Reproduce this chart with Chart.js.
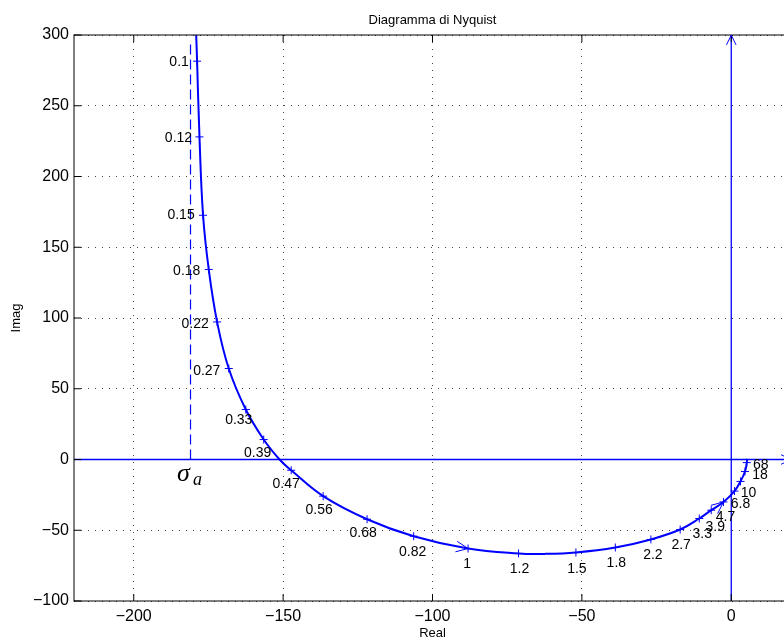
<!DOCTYPE html>
<html>
<head>
<meta charset="utf-8">
<script src="https://cdn.jsdelivr.net/npm/chart.js@4.4.0/dist/chart.umd.min.js"></script>
<style>
  html, body { margin: 0; padding: 0; overflow: hidden; background: #fff; }
  #wrap { width: 800px; height: 641px; }
</style>
</head>
<body>
<div id="wrap"><canvas id="nyquist" width="800" height="641"></canvas></div>
<script>
// traced Nyquist curve (Real / Imag)
const curveRe = [-179.1, -178.8, -178.0, -176.8, -174.9, -172.1, -168.2, -162.5, -156.5, -151.2, -147.3, -136.6, -121.9, -106.3, -88.1, -71.2, -62.5, -52.0, -38.8, -26.9, -17.1, -10.7, -6.7, -2.6, 1.1, 3.1, 4.6, 5.2, 5.3];
const curveIm = [300, 281.5, 228, 172.6, 134.3, 97.2, 64.3, 35.3, 14.1, 0, -7.6, -25.9, -42.2, -54.2, -62.9, -66.4, -66.7, -65.7, -62.2, -56.5, -49.5, -41.7, -35.8, -30, -22.3, -15.5, -8.5, -2.2, 0];

// frequency markers
const freqLabels = ['0.1', '0.12', '0.15', '0.18', '0.22', '0.27', '0.33', '0.39', '0.47', '0.56', '0.68', '0.82', '1', '1.2', '1.5', '1.8', '2.2', '2.7', '3.3', '3.9', '4.7', '6.8', '10', '18', '68'];
const markerRe = [-178.8, -178.0, -176.8, -174.9, -172.1, -168.2, -162.5, -156.5, -147.3, -136.6, -121.9, -106.3, -88.1, -71.2, -52.0, -38.8, -26.9, -17.1, -10.7, -6.7, -2.6, 1.1, 3.1, 4.6, 5.2];
const markerIm = [281.5, 228, 172.6, 134.3, 97.2, 64.3, 35.3, 14.1, -7.6, -25.9, -42.2, -54.2, -62.9, -66.4, -65.7, -62.2, -56.5, -49.5, -41.7, -35.8, -30, -22.3, -15.5, -8.5, -2.2];

// direction arrows on the curve, at these markers
const arrowMarkers = ['1', '4.7'];

// asymptote
const sigmaA = -181;
const asymptoteTop = 295;

// axes
const xRange = [-220, 20];
const yRange = [-100, 300];
const xTicks = [-200, -150, -100, -50, 0];
const yTicks = [-100, -50, 0, 50, 100, 150, 200, 250, 300];

// label placement relative to each marker (px)
const labelShift = [
    [-18, 1], [-21, 1], [-22, 0], [-22, 2], [-22, 2], [-22, 3], [-7, 11], [-6, 14],
    [-5, 14], [-4, 14], [-4, 14], [-1, 16], [-1, 16], [1, 16], [1, 17], [1, 16],
    [2, 16], [1, 16], [3, 16], [4, 17], [2, 15], [6, 13], [8, 12], [15, 4], [14, 3]
];

const BLUE = '#0000ff';
const SANS = "'Liberation Sans', Arial, sans-serif";

function fmt(v) {
    return v < 0 ? '\u2212' + Math.abs(v) : String(v);
}

function gridColor(ctx) {
    // zero lines are covered by the blue axes
    return ctx.tick && ctx.tick.value === 0 ? 'rgba(0,0,0,0)' : '#444';
}

function arrowHead(ctx, x, y, dx, dy, len, spread) {
    const a = Math.atan2(dy, dx);
    ctx.beginPath();
    ctx.moveTo(x - len * Math.cos(a - spread), y - len * Math.sin(a - spread));
    ctx.lineTo(x, y);
    ctx.lineTo(x - len * Math.cos(a + spread), y - len * Math.sin(a + spread));
    ctx.stroke();
}

const overlay = {
    id: 'overlay',
    afterDatasetsDraw(chart) {
        const { ctx, chartArea: ca, scales: { x, y } } = chart;
        ctx.save();

        // frame
        ctx.strokeStyle = '#000';
        ctx.lineWidth = 1;
        ctx.strokeRect(ca.left, ca.top, ca.right - ca.left, ca.bottom - ca.top);

        // inner ticks
        ctx.beginPath();
        xTicks.forEach(v => {
            const px = x.getPixelForValue(v);
            ctx.moveTo(px, ca.bottom); ctx.lineTo(px, ca.bottom - 7);
            ctx.moveTo(px, ca.top); ctx.lineTo(px, ca.top + 7);
        });
        yTicks.forEach(v => {
            const py = y.getPixelForValue(v);
            ctx.moveTo(ca.left, py); ctx.lineTo(ca.left + 7, py);
            ctx.moveTo(ca.right, py); ctx.lineTo(ca.right - 7, py);
        });
        ctx.stroke();

        // arrows on axis lines
        ctx.strokeStyle = BLUE;
        ctx.lineWidth = 1;
        arrowHead(ctx, x.getPixelForValue(xRange[1]), y.getPixelForValue(0), 1, 0, 11, 0.45);
        arrowHead(ctx, x.getPixelForValue(0), y.getPixelForValue(yRange[1]), 0, -1, 11, 0.45);

        // arrows on the curve
        arrowMarkers.forEach(lbl => {
            const i = freqLabels.indexOf(lbl);
            const px = x.getPixelForValue(markerRe[i]);
            const py = y.getPixelForValue(markerIm[i]);
            const dx = x.getPixelForValue(markerRe[i + 1]) - x.getPixelForValue(markerRe[i - 1]);
            const dy = y.getPixelForValue(markerIm[i + 1]) - y.getPixelForValue(markerIm[i - 1]);
            arrowHead(ctx, px, py, dx, dy, 13, 0.42);
        });

        // frequency labels
        ctx.fillStyle = '#000';
        ctx.font = '14px ' + SANS;
        ctx.textAlign = 'center';
        ctx.textBaseline = 'middle';
        freqLabels.forEach((lbl, i) => {
            const px = x.getPixelForValue(markerRe[i]) + labelShift[i][0];
            const py = y.getPixelForValue(markerIm[i]) + labelShift[i][1];
            ctx.fillText(lbl, px, py);
        });

        // sigma_a
        const sx = x.getPixelForValue(sigmaA);
        const sy = y.getPixelForValue(0);
        ctx.font = "italic 26px 'Liberation Serif', 'Times New Roman', serif";
        ctx.textAlign = 'center';
        ctx.textBaseline = 'alphabetic';
        ctx.fillText('\u03c3', sx - 7, sy + 21);
        ctx.font = "italic 18px 'Liberation Serif', 'Times New Roman', serif";
        ctx.fillText('a', sx + 7, sy + 25);

        // title
        ctx.font = '13px ' + SANS;
        ctx.textBaseline = 'middle';
        ctx.fillText('Diagramma di Nyquist', (ca.left + ca.right) / 2, 20);

        ctx.restore();
    }
};

const curveData = curveRe.map((v, i) => ({ x: v, y: curveIm[i] }));
const markerData = markerRe.map((v, i) => ({ x: v, y: markerIm[i] }));

new Chart(document.getElementById('nyquist').getContext('2d'), {
    type: 'scatter',
    data: {
        datasets: [
            {
                data: [{ x: xRange[0], y: 0 }, { x: xRange[1], y: 0 }],
                showLine: true, borderColor: BLUE, borderWidth: 1.3, pointRadius: 0
            },
            {
                data: [{ x: 0, y: yRange[0] }, { x: 0, y: yRange[1] }],
                showLine: true, borderColor: BLUE, borderWidth: 1.3, pointRadius: 0
            },
            {
                data: [{ x: sigmaA, y: 0 }, { x: sigmaA, y: asymptoteTop }],
                showLine: true, borderColor: BLUE, borderWidth: 1.2, borderDash: [10, 5], pointRadius: 0
            },
            {
                data: curveData,
                showLine: true, borderColor: BLUE, borderWidth: 2, tension: 0.4, pointRadius: 0
            },
            {
                data: markerData,
                showLine: false, pointStyle: 'cross', pointRadius: 4,
                borderColor: BLUE, backgroundColor: BLUE, pointBorderWidth: 1
            }
        ]
    },
    options: {
        responsive: false,
        animation: false,
        devicePixelRatio: 1,
        layout: { padding: { top: 35, right: 9, left: 0, bottom: 0 } },
        plugins: {
            legend: { display: false },
            tooltip: { enabled: false }
        },
        scales: {
            x: {
                type: 'linear',
                min: xRange[0],
                max: xRange[1],
                afterBuildTicks: scale => { scale.ticks = xTicks.map(v => ({ value: v })); },
                afterFit: scale => { scale.height = 40; },
                grid: { color: gridColor, lineWidth: 1, drawTicks: false },
                border: { display: false, dash: [1, 6] },
                ticks: {
                    padding: 6,
                    color: '#000',
                    font: { family: SANS, size: 16 },
                    callback: v => fmt(v)
                },
                title: {
                    display: true, text: 'Real', color: '#000',
                    font: { family: SANS, size: 13 }, padding: { top: 0, bottom: 0 }
                }
            },
            y: {
                type: 'linear',
                min: yRange[0],
                max: yRange[1],
                afterBuildTicks: scale => { scale.ticks = yTicks.map(v => ({ value: v })); },
                afterFit: scale => { scale.width = 74; },
                grid: { color: gridColor, lineWidth: 1, drawTicks: false },
                border: { display: false, dash: [1, 6] },
                ticks: {
                    padding: 5,
                    color: '#000',
                    font: { family: SANS, size: 16 },
                    callback: v => fmt(v)
                },
                title: {
                    display: true, text: 'Imag', color: '#000',
                    font: { family: SANS, size: 13 }, padding: { top: 9, bottom: 0 }
                }
            }
        }
    },
    plugins: [overlay]
});
</script>
</body>
</html>
